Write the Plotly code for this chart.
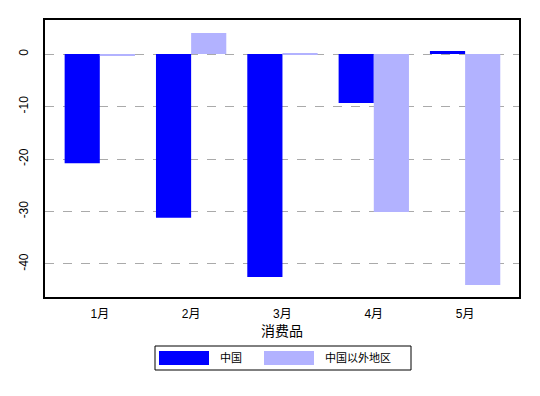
import plotly.graph_objects as go

categories = ["1月", "2月", "3月", "4月", "5月"]
china = [-20.8, -31.2, -42.5, -9.3, 0.6]
outside = [-0.3, 4.0, 0.2, -30.1, -44.0]
series_names = ["中国", "中国以外地区"]
colors = ["#0000FF", "#B2B2FF"]
x_title = "消费品"
y_ticks = [0, -10, -20, -30, -40]

FONT = "Liberation Sans, Noto Sans CJK SC, Arial, sans-serif"

fig = go.Figure()
for name, vals, col in zip(series_names, [china, outside], colors):
    fig.add_trace(go.Bar(x=categories, y=vals, name=name, marker=dict(color=col, line=dict(width=0)),
                         showlegend=False))

W, H = 540, 396
ml, mr, mt, mb = 45, 21, 20, 99
pw, ph = W - ml - mr, H - mt - mb

fig.update_layout(
    width=W, height=H,
    margin=dict(l=ml, r=mr, t=mt, b=mb),
    paper_bgcolor="white", plot_bgcolor="white",
    barmode="group", bargap=0.23, bargroupgap=0,
    font=dict(family=FONT, size=11, color="black"),
    xaxis=dict(range=[-0.6, 4.59], showline=True, linecolor="black", linewidth=2, mirror=True,
               ticks="", showgrid=False, zeroline=False, ticklabelstandoff=5,
               title=dict(text=x_title, font=dict(size=14), standoff=6),
               tickfont=dict(size=12)),
    yaxis=dict(range=[-46.3, 6.5], tickvals=y_ticks, ticktext=[str(v) for v in y_ticks],
               tickangle=-90, showline=True, linecolor="black", linewidth=2, mirror=True,
               ticks="", showgrid=True, gridcolor="#AAAAAA", griddash="dash", gridwidth=1,
               zeroline=False, tickfont=dict(size=12), ticklabelstandoff=10),
)

# custom legend (wide swatches like the reference)
def px_x(p):
    return (p - ml) / pw
def px_y(p):
    return (H - mb - p) / ph

shapes = [dict(type="rect", xref="paper", yref="paper",
               x0=px_x(155), x1=px_x(411), y0=px_y(370), y1=px_y(346),
               line=dict(color="black", width=1), fillcolor="white")]
sw = [(159, 209), (264, 314)]
tx = [218, 323]
for (a, b), col, t, name in zip(sw, colors, tx, series_names):
    shapes.append(dict(type="rect", xref="paper", yref="paper",
                       x0=px_x(a), x1=px_x(b), y0=px_y(365), y1=px_y(351),
                       line=dict(width=0), fillcolor=col))
    fig.add_annotation(xref="paper", yref="paper", x=px_x(t), y=px_y(358), text=name,
                       showarrow=False, xanchor="left", yanchor="middle", font=dict(size=11))
fig.update_layout(shapes=shapes)

fig.write_html("out.html")
